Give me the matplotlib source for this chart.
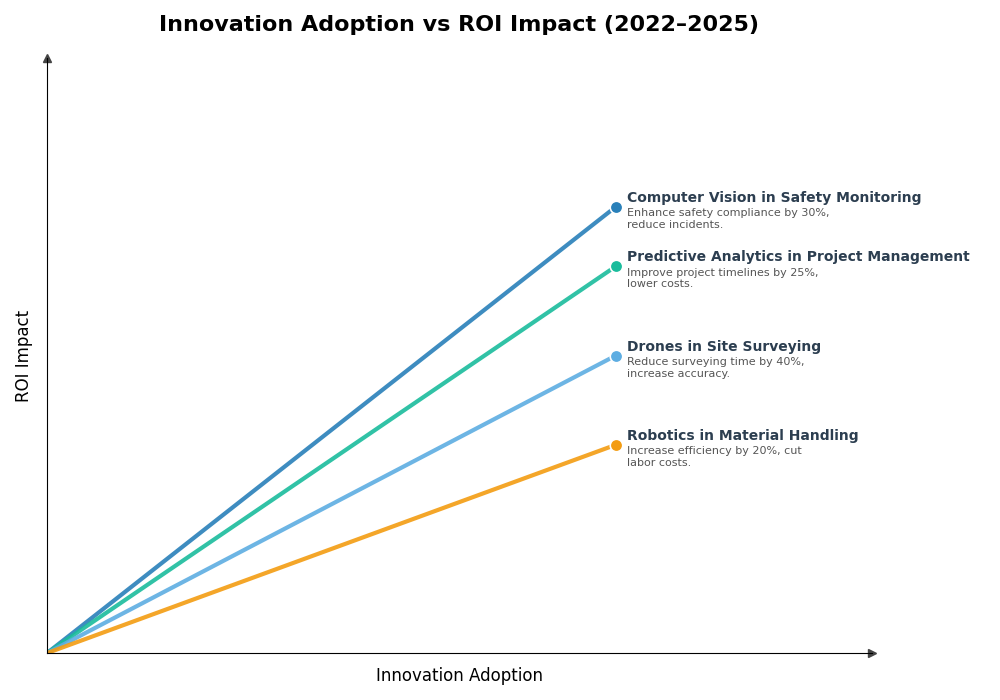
import textwrap
import matplotlib
matplotlib.use("Agg")
import matplotlib.pyplot as plt

names = ["Computer Vision in Safety Monitoring",
         "Predictive Analytics in Project Management",
         "Drones in Site Surveying",
         "Robotics in Material Handling"]
descs = ["Enhance safety compliance by 30%, reduce incidents.",
         "Improve project timelines by 25%, lower costs.",
         "Reduce surveying time by 40%, increase accuracy.",
         "Increase efficiency by 20%, cut labor costs."]
adoption = [0.75, 0.75, 0.75, 0.75]
roi = [0.75, 0.65, 0.50, 0.35]
colors = ["#2980b9", "#1abc9c", "#5dade2", "#f39c12"]

fig = plt.figure(figsize=(10, 7), dpi=100)
ax = fig.add_axes([0.047, 0.067, 0.825, 0.85])

for n, d, x, y, c in zip(names, descs, adoption, roi, colors):
    ax.plot([0, x], [0, y], color=c, lw=3, alpha=0.9, solid_capstyle="butt")
    ax.plot(x, y, "o", color=c, markersize=9, markeredgecolor="white", markeredgewidth=1.2)
    ax.annotate(n, (x, y), xytext=(8, 1.5), textcoords="offset points",
                fontsize=10, fontweight="bold", color="#2c3e50", va="bottom")
    ax.annotate("\n".join(textwrap.wrap(d, 35)), (x, y), xytext=(8, -1),
                textcoords="offset points", fontsize=8, color="#555555", va="top")

ax.set_xlim(0, 1.088)
ax.set_ylim(0, 1.0)
ax.set_xticks([])
ax.set_yticks([])
for s in ["top", "right"]:
    ax.spines[s].set_visible(False)
ax.spines["left"].set_color("black")
ax.spines["bottom"].set_color("black")
ax.plot(1, 0, ">", color="#444444", markersize=6, transform=ax.transAxes, clip_on=False)
ax.plot(0, 1, "^", color="#444444", markersize=6, transform=ax.transAxes, clip_on=False)

ax.set_xlabel("Innovation Adoption", fontsize=12, labelpad=10)
ax.set_ylabel("ROI Impact", fontsize=12, labelpad=10)
fig.suptitle("Innovation Adoption vs ROI Impact (2022–2025)", fontsize=16,
             fontweight="bold", x=0.459, y=0.978)

fig.savefig("out.png", dpi=100)
